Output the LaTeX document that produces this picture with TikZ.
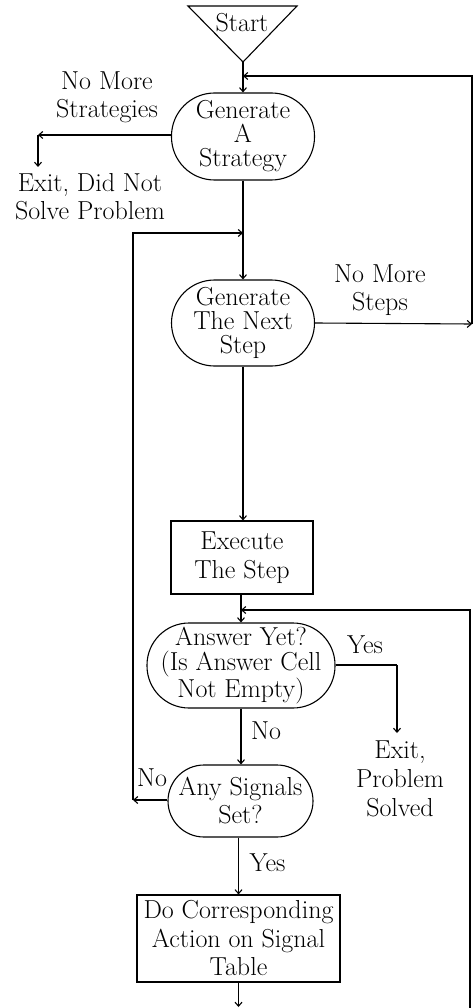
\documentclass[tikz,border=0pt]{standalone}
\usetikzlibrary{arrows.meta}
\begin{document}
\begin{tikzpicture}[x=1pt,y=-1pt,
  every node/.style={font=\fontsize{26}{28}\selectfont},
  lbl/.style={align=center, inner sep=0pt},
  term/.style={rectangle, draw, line width=1.1pt, align=center, inner sep=0pt},
  proc/.style={rectangle, draw, line width=1.1pt, align=center, inner sep=0pt},
  flow/.style={-{Straight Barb[length=4pt,width=7pt]}, line width=1.1pt},
  ln/.style={line width=1.1pt}]
\useasboundingbox (0,0) rectangle (473,1008);
% start triangle
\draw[ln] (188,6) -- (297,6) -- (243,62) -- cycle;
\node[lbl] (start) at (242,23) {Start};
\coordinate (apex) at (243,62);
% nodes
\node[term, rounded corners=43pt, minimum width=143pt, minimum height=87pt, font=\fontsize{26}{24}\selectfont] (strat) at (243,136.5) {Generate\\A\\Strategy};
\node[term, rounded corners=43pt, minimum width=143pt, minimum height=86pt, font=\fontsize{26}{24}\selectfont] (next) at (243,323) {Generate\\The Next\\Step};
\node[proc, minimum width=142pt, minimum height=73pt, font=\fontsize{26}{29}\selectfont] (exec) at (242,557.5) {Execute\\The Step};
\node[term, rounded corners=42pt, minimum width=188pt, minimum height=85pt, font=\fontsize{26}{25}\selectfont] (ans) at (241,665.5) {Answer Yet?\\(Is Answer Cell\\Not Empty)};
\node[term, rounded corners=36pt, minimum width=145pt, minimum height=72pt, font=\fontsize{26}{28}\selectfont] (sig) at (240.5,801) {Any Signals\\Set?};
\node[proc, minimum width=203pt, minimum height=87pt, font=\fontsize{26}{28.5}\selectfont] (doc) at (238.5,938.5) {Do Corresponding\\Action on Signal\\Table};
% labels
\node[lbl, font=\fontsize{26}{28}\selectfont] (nms) at (107,97) {No More\\Strategies};
\node[lbl, font=\fontsize{26}{28}\selectfont] (ex1) at (90,197) {Exit, Did Not\\Solve Problem};
\node[lbl, font=\fontsize{26}{28}\selectfont] (nmst) at (380,290) {No More\\Steps};
\node[lbl] (yes1) at (365,645) {Yes};
\node[lbl, font=\fontsize{26}{29}\selectfont] (ex2) at (400,779) {Exit,\\Problem\\Solved};
\node[lbl] (no1) at (266,731) {No};
\node[lbl] (no2) at (152,778) {No};
\node[lbl] (yes2) at (267.5,863) {Yes};
% coordinates
\coordinate (j1) at (243,76);
\coordinate (r1) at (472,76);
\coordinate (r2) at (472,324);
\coordinate (c1) at (38,135);
\coordinate (e1) at (38,167);
\coordinate (j2) at (243,233);
\coordinate (l1) at (133,233);
\coordinate (l2) at (133,800);
\coordinate (j3) at (241,610);
\coordinate (r3) at (470,610);
\coordinate (r4) at (470,1008);
\coordinate (y1) at (397,665);
\coordinate (y2) at (397,733);
\coordinate (b1) at (238.5,1007);
% connectors
\draw[flow] (apex) -- (strat.north);
\draw[flow] (next.east) -- (r2);
\draw[flow] (r2) -- (r1) -- (j1);
\draw[flow] (strat.west |- c1) -- (c1);
\draw[flow] (c1) -- (e1);
\draw[flow] (strat.south) -- (next.north);
\draw[flow] (l2) -- (l1) -- (j2);
\draw[flow] (sig.west |- l2) -- (l2);
\draw[flow] (next.south) -- (next.south |- exec.north);
\draw[flow] (exec.south -| ans.north) -- (ans.north);
\draw[flow] (r4) -- (r3) -- (j3);
\draw[ln] (ans.east |- y1) -- (y1);
\draw[flow] (y1) -- (y2);
\draw[flow] (ans.south) -- (ans.south |- sig.north);
\draw[flow] (sig.south -| doc.north) -- (doc.north);
\draw[flow] (doc.south) -- (b1);
\end{tikzpicture}
\end{document}
